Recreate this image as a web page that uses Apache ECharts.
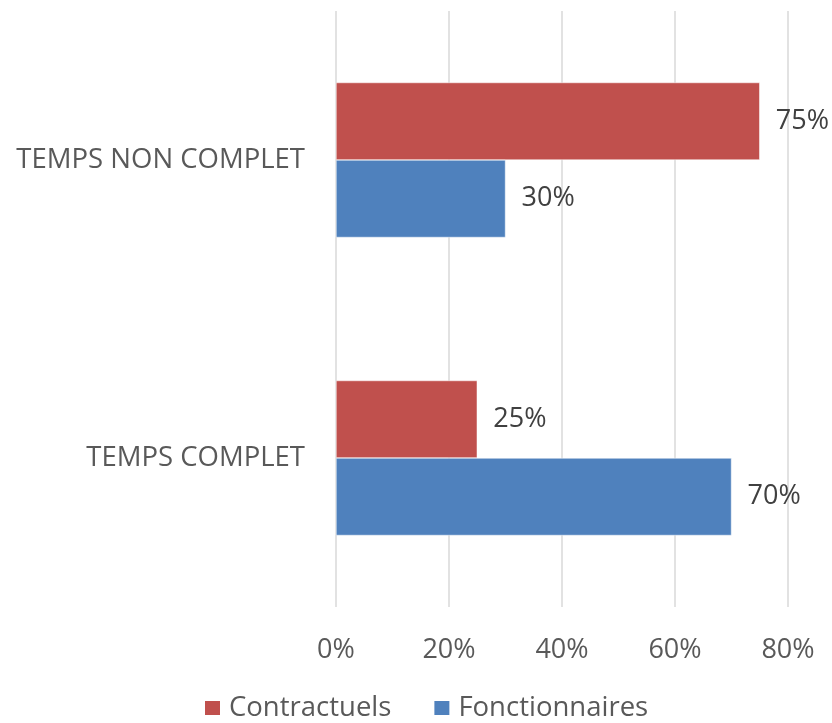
<!DOCTYPE html>
<html>
<head>
<meta charset="utf-8">
<script src="https://cdn.jsdelivr.net/npm/echarts@6/dist/echarts.min.js"></script>
<style>
  html, body { margin: 0; padding: 0; background: #ffffff; }
  #chart { width: 832px; height: 723px; }
</style>
</head>
<body>
<div id="chart"></div>
<script>
// Work-time categories (bottom to top on the vertical axis)
const categories = ['TEMPS COMPLET', 'TEMPS NON COMPLET'];
// Share of each staff type, in percent
const contractuels = [25, 75];
const fonctionnaires = [70, 30];
const xTicks = [0, 20, 40, 60, 80];

const FONT = '"Open Sans", "Noto Sans", sans-serif';

const chart = echarts.init(document.getElementById('chart'));

const labelStyle = {
  show: true,
  position: 'right',
  distance: 16,
  formatter: p => p.value + '%',
  color: '#404040',
  fontSize: 27,
  fontFamily: FONT
};

chart.setOption({
  animation: false,
  grid: { left: 336, right: 44, top: 11, bottom: 116, containLabel: false },
  legend: {
    top: 694,
    left: 203,
    padding: 0,
    itemWidth: 17,
    itemHeight: 16,
    itemGap: 41,
    icon: 'rect',
    textStyle: { color: '#595959', fontSize: 27.5, fontFamily: FONT, padding: [0, 0, 0, 3] },
    data: ['Contractuels', 'Fonctionnaires']
  },
  xAxis: {
    type: 'value',
    min: xTicks[0],
    max: xTicks[xTicks.length - 1],
    interval: 20,
    axisLine: { show: false },
    axisTick: { show: false },
    splitLine: { show: true, lineStyle: { color: '#D9D9D9', width: 1.5 } },
    axisLabel: {
      formatter: v => v + '%',
      color: '#595959',
      fontSize: 27,
      fontFamily: FONT,
      margin: 30
    }
  },
  yAxis: {
    type: 'category',
    data: categories,
    axisLine: { show: false },
    axisTick: { show: false },
    axisLabel: {
      color: '#595959',
      fontSize: 27.5,
      fontFamily: FONT,
      margin: 31
    }
  },
  series: [
    {
      name: 'Contractuels',
      type: 'bar',
      data: contractuels,
      barGap: '0%',
      barCategoryGap: '48%',
      itemStyle: { color: '#C0504D', borderColor: '#ffffff', borderWidth: 0.5 },
      label: labelStyle
    },
    {
      name: 'Fonctionnaires',
      type: 'bar',
      data: fonctionnaires,
      barGap: '0%',
      barCategoryGap: '48%',
      itemStyle: { color: '#4F81BD', borderColor: '#ffffff', borderWidth: 0.5 },
      label: labelStyle
    }
  ]
});
</script>
</body>
</html>
